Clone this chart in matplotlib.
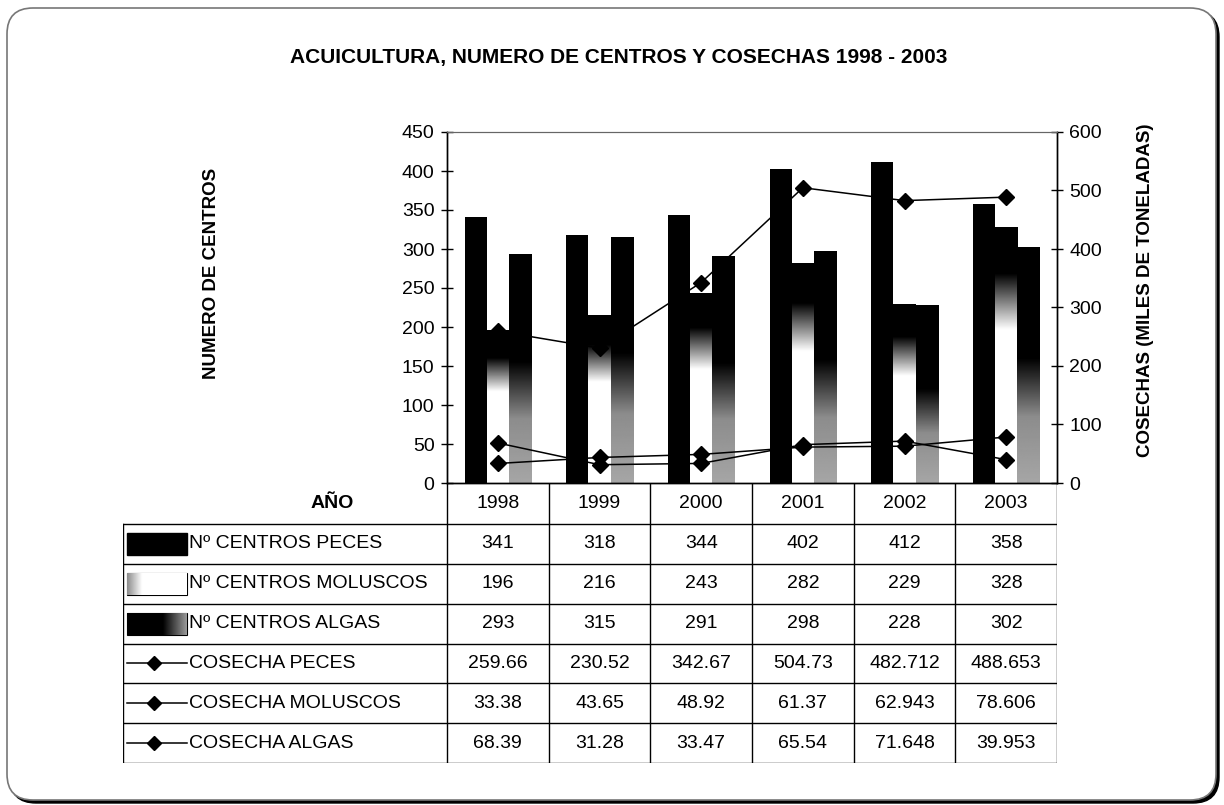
import numpy as np
import matplotlib
matplotlib.use("Agg")
import matplotlib.pyplot as plt
from matplotlib.patches import FancyBboxPatch, Rectangle

plt.rcParams['font.family'] = ['Liberation Sans', 'DejaVu Sans']

### data
years = ["1998", "1999", "2000", "2001", "2002", "2003"]
centros_peces = [341, 318, 344, 402, 412, 358]
centros_moluscos = [196, 216, 243, 282, 229, 328]
centros_algas = [293, 315, 291, 298, 228, 302]
cosecha_peces = [259.66, 230.52, 342.67, 504.73, 482.712, 488.653]
cosecha_moluscos = [33.38, 43.65, 48.92, 61.37, 62.943, 78.606]
cosecha_algas = [68.39, 31.28, 33.47, 65.54, 71.648, 39.953]

row_labels = ["Nº CENTROS PECES", "Nº CENTROS MOLUSCOS", "Nº CENTROS ALGAS",
              "COSECHA PECES", "COSECHA MOLUSCOS", "COSECHA ALGAS"]

W, H = 1224, 805
def fx(p):
    return p / W
def fy(p):
    return 1 - p / H

fig = plt.figure(figsize=(W / 100, H / 100), dpi=100)

### background frame (pixel coords)
bg = fig.add_axes([0, 0, 1, 1], zorder=-5)
bg.set_xlim(0, W)
bg.set_ylim(H, 0)
bg.axis("off")
bg.add_patch(FancyBboxPatch((10, 11), 1209, 792, boxstyle="round,pad=0,rounding_size=26",
                            facecolor="black", edgecolor="black", lw=1))
bg.add_patch(FancyBboxPatch((7, 8), 1209, 792, boxstyle="round,pad=0,rounding_size=26",
                            facecolor="white", edgecolor="#777777", lw=1.2))

fig.text(fx(619), fy(57), "ACUICULTURA, NUMERO DE CENTROS Y COSECHAS 1998 - 2003",
         ha="center", va="center", fontsize=15, fontweight="bold")
fig.text(fx(212), fy(273), "NUMERO DE CENTROS", rotation=90, ha="center", va="center",
         fontsize=13.5, fontweight="bold")
fig.text(fx(1145), fy(290), "COSECHAS (MILES DE TONELADAS)", rotation=90, ha="center",
         va="center", fontsize=13.5, fontweight="bold")

### main chart
ax_l, ax_r, ax_t, ax_b = 447, 1057, 132, 483
ax = fig.add_axes([fx(ax_l), fy(ax_b), fx(ax_r) - fx(ax_l), fy(ax_t) - fy(ax_b)])
ax2 = ax.twinx()

x = np.arange(len(years))
bw = 0.217

def gradient_bars(bars, stops, vals):
    grid = np.linspace(0, 1, 200)
    prof = np.interp(grid, stops, vals).reshape(-1, 1)
    for r in bars:
        x0, w, h = r.get_x(), r.get_width(), r.get_height()
        im = ax.imshow(prof, cmap="gray", vmin=0, vmax=1, extent=(x0, x0 + w, 0, h),
                       aspect="auto", origin="upper", zorder=2, interpolation="bilinear")
        im.set_clip_path(r)

ax.bar(x - bw, centros_peces, bw, color="black", zorder=2)
bm = ax.bar(x, centros_moluscos, bw, facecolor="none", edgecolor="none", zorder=2)
ba = ax.bar(x + bw, centros_algas, bw, facecolor="none", edgecolor="none", zorder=2)
gradient_bars(bm, [0, 0.18, 0.40, 1], [0, 0, 1, 1])
gradient_bars(ba, [0, 0.47, 0.72, 1], [0, 0, 0.55, 0.65])

ax.set_xlim(-0.5, len(years) - 0.5)
ax.set_ylim(0, 450)
ax.set_yticks(np.arange(0, 451, 50))
ax.set_xticks([])
ax2.set_ylim(0, 600)
ax2.set_yticks(np.arange(0, 601, 100))

for s in [cosecha_peces, cosecha_moluscos, cosecha_algas]:
    ax2.plot(x, s, color="black", lw=1.1, marker="D", ms=8, zorder=3)

for a in (ax, ax2):
    a.tick_params(axis="y", direction="inout", length=8, width=1, labelsize=14, pad=5)
    a.spines["top"].set_color("#666666")
    for sp in ("left", "right", "bottom"):
        a.spines[sp].set_color("black")
        a.spines[sp].set_linewidth(1)

### data table below the chart (pixel coords)
tab = fig.add_axes([fx(123), fy(763), fx(ax_r) - fx(123), fy(ax_b) - fy(763)])
tab.axis("off")

cw = (ax_r - ax_l) / len(years)
head_b = 524
rh = (763 - head_b) / len(row_labels)

for k in range(len(row_labels) + 1):
    tab.plot([123, ax_r], [head_b + k * rh] * 2, color="black", lw=1)
tab.plot([123, 123], [head_b, 763], color="black", lw=1)
for i in range(len(years) + 1):
    tab.plot([ax_l + i * cw] * 2, [ax_b, 763], color="black", lw=1)

tab.text(332, (ax_b + head_b) / 2, "AÑO", ha="center", va="center", fontsize=14, fontweight="bold")
for i, yr in enumerate(years):
    tab.text(ax_l + (i + 0.5) * cw, (ax_b + head_b) / 2, yr, ha="center", va="center", fontsize=14)

rows = [centros_peces, centros_moluscos, centros_algas,
        cosecha_peces, cosecha_moluscos, cosecha_algas]
for k, (lab, vals) in enumerate(zip(row_labels, rows)):
    yc = head_b + (k + 0.5) * rh
    tab.text(189, yc, lab, ha="left", va="center", fontsize=14)
    for i, v in enumerate(vals):
        tab.text(ax_l + (i + 0.5) * cw, yc, f"{v:g}", ha="center", va="center", fontsize=14)

    # legend keys
    kx0, kx1 = 127, 187
    if k == 0:
        tab.add_patch(Rectangle((kx0, yc - 11), kx1 - kx0, 22, facecolor="black", edgecolor="black"))
    elif k in (1, 2):
        g = np.linspace(0, 1, 100)
        if k == 1:
            prof = np.interp(g, [0, 0.25, 1], [0.55, 1, 1])
        else:
            prof = np.interp(g, [0, 0.6, 1], [0, 0, 0.6])
        r = Rectangle((kx0, yc - 11), kx1 - kx0, 22, facecolor="none", edgecolor="black", lw=0.8)
        tab.add_patch(r)
        im = tab.imshow(prof.reshape(1, -1), cmap="gray", vmin=0, vmax=1,
                        extent=(kx0, kx1, yc + 11, yc - 11), aspect="auto", zorder=1)
        im.set_clip_path(r)
    else:
        tab.plot([kx0, kx1], [yc, yc], color="black", lw=1.1)
        tab.plot([154], [yc], color="black", marker="D", ms=7)

tab.set_xlim(123, ax_r)
tab.set_ylim(763, ax_b)

fig.savefig("out.png", dpi=100)
